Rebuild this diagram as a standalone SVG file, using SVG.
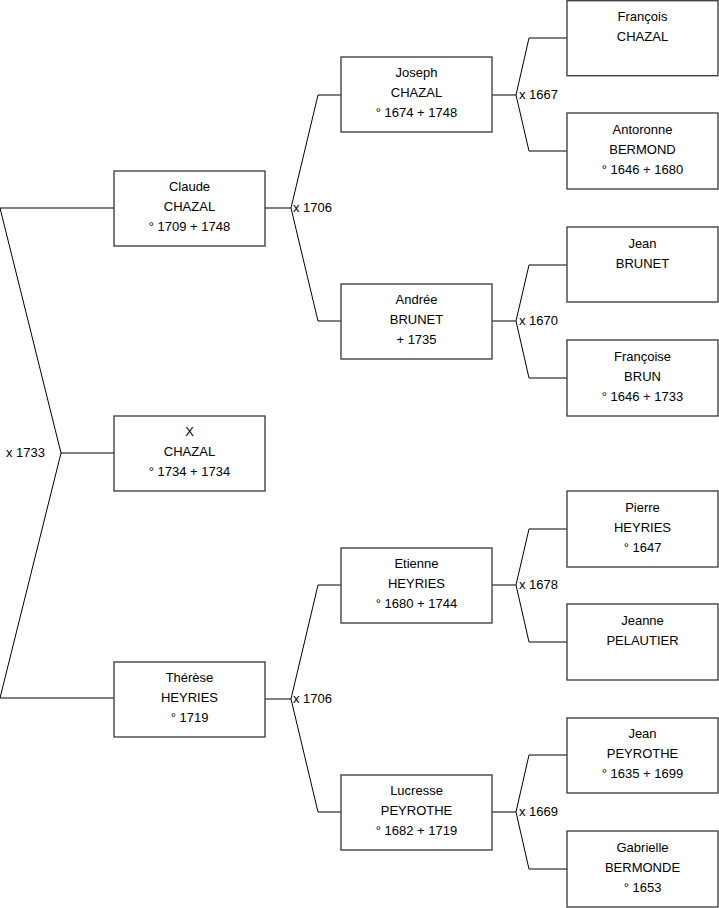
<svg xmlns="http://www.w3.org/2000/svg" width="719" height="908" viewBox="0 0 719 908">
<style>
rect{fill:#fff;stroke:#444;stroke-width:1.4}
text{font-family:"Liberation Sans",Arial,sans-serif;font-size:13px;fill:#000}
.c{text-anchor:middle}
#connectors path{fill:none;stroke:#000;stroke-width:1}
</style>
<rect x="0" y="0" width="719" height="908" style="stroke:none"/>
<g id="connectors">
<path d="M114,208H0L61,453L0,698H114M61,453H114"/>
<path d="M265,208H291L318,95H341M291,208L318,321H341"/>
<path d="M265,699H291L318,585H341M291,699L318,812H341"/>
<path d="M492,95H516L529,38H567M516,95L529,151H567"/>
<path d="M492,321H516L529,265H567M516,321L529,378H567"/>
<path d="M492,585H516L529,529H567M516,585L529,642H567"/>
<path d="M492,812H516L529,755H567M516,812L529,869H567"/>
</g>
<g id="labels">
<text x="6" y="457">x 1733</text>
<text x="293" y="212">x 1706</text>
<text x="293" y="703">x 1706</text>
<text x="519" y="99">x 1667</text>
<text x="519" y="325">x 1670</text>
<text x="519" y="589">x 1678</text>
<text x="519" y="816">x 1669</text>
</g>
<g id="claude"><rect x="114" y="171" width="151" height="75"/><text class="c" x="189.5" y="191">Claude</text><text class="c" x="189.5" y="211">CHAZAL</text><text class="c" x="189.5" y="231">° 1709 + 1748</text></g>
<g id="x"><rect x="114" y="416" width="151" height="75"/><text class="c" x="189.5" y="436">X</text><text class="c" x="189.5" y="456">CHAZAL</text><text class="c" x="189.5" y="476">° 1734 + 1734</text></g>
<g id="therese"><rect x="114" y="662" width="151" height="75"/><text class="c" x="189.5" y="682">Thérèse</text><text class="c" x="189.5" y="702">HEYRIES</text><text class="c" x="189.5" y="722">° 1719</text></g>
<g id="joseph"><rect x="341" y="57" width="151" height="75"/><text class="c" x="416.5" y="77">Joseph</text><text class="c" x="416.5" y="97">CHAZAL</text><text class="c" x="416.5" y="117">° 1674 + 1748</text></g>
<g id="andree"><rect x="341" y="284" width="151" height="75"/><text class="c" x="416.5" y="304">Andrée</text><text class="c" x="416.5" y="324">BRUNET</text><text class="c" x="416.5" y="344">+ 1735</text></g>
<g id="etienne"><rect x="341" y="548" width="151" height="75"/><text class="c" x="416.5" y="568">Etienne</text><text class="c" x="416.5" y="588">HEYRIES</text><text class="c" x="416.5" y="608">° 1680 + 1744</text></g>
<g id="lucresse"><rect x="341" y="775" width="151" height="75"/><text class="c" x="416.5" y="795">Lucresse</text><text class="c" x="416.5" y="815">PEYROTHE</text><text class="c" x="416.5" y="835">° 1682 + 1719</text></g>
<g id="francois"><rect x="567" y="0.7" width="151" height="75"/><text class="c" x="642.5" y="21">François</text><text class="c" x="642.5" y="41">CHAZAL</text></g>
<g id="antoronne"><rect x="567" y="113" width="151" height="76"/><text class="c" x="642.5" y="134">Antoronne</text><text class="c" x="642.5" y="154">BERMOND</text><text class="c" x="642.5" y="174">° 1646 + 1680</text></g>
<g id="jean-brunet"><rect x="567" y="227" width="151" height="75"/><text class="c" x="642.5" y="248">Jean</text><text class="c" x="642.5" y="268">BRUNET</text></g>
<g id="francoise"><rect x="567" y="340" width="151" height="76"/><text class="c" x="642.5" y="361">Françoise</text><text class="c" x="642.5" y="381">BRUN</text><text class="c" x="642.5" y="401">° 1646 + 1733</text></g>
<g id="pierre"><rect x="567" y="491" width="151" height="76"/><text class="c" x="642.5" y="512">Pierre</text><text class="c" x="642.5" y="532">HEYRIES</text><text class="c" x="642.5" y="552">° 1647</text></g>
<g id="jeanne"><rect x="567" y="604" width="151" height="76"/><text class="c" x="642.5" y="625">Jeanne</text><text class="c" x="642.5" y="645">PELAUTIER</text></g>
<g id="jean-peyrothe"><rect x="567" y="718" width="151" height="75"/><text class="c" x="642.5" y="738">Jean</text><text class="c" x="642.5" y="758">PEYROTHE</text><text class="c" x="642.5" y="778">° 1635 + 1699</text></g>
<g id="gabrielle"><rect x="567" y="831" width="151" height="76"/><text class="c" x="642.5" y="852">Gabrielle</text><text class="c" x="642.5" y="872">BERMONDE</text><text class="c" x="642.5" y="892">° 1653</text></g>
</svg>
